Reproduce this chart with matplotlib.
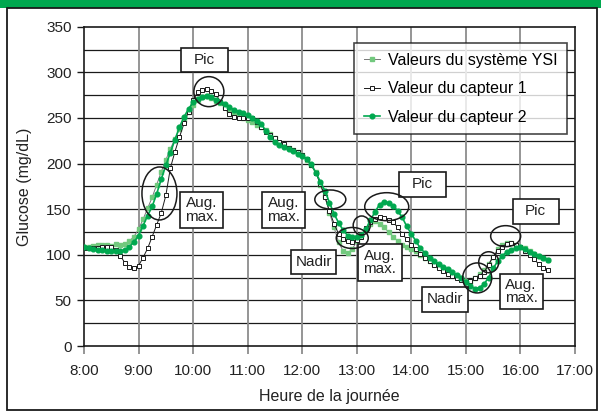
import numpy as np
import matplotlib
matplotlib.use("Agg")
import matplotlib.pyplot as plt
from matplotlib.patches import Rectangle, Ellipse

plt.rcParams['font.family'] = ['Liberation Sans', 'DejaVu Sans']

# Sampling times: every 5 minutes from 8:00 to 16:30 (minutes after 8:00)
minutes = np.arange(0, 515, 5)

ysi = [108, 109, 110, 111, 111, 111, 110, 112, 111, 112, 115, 120,
       128, 139, 151, 163, 177, 191, 204, 216, 227, 238, 248, 257,
       264, 270, 273, 274, 272, 269, 266, 262, 258, 255, 252, 250,
       248, 245, 242, 240, 237, 232, 228, 223, 219, 217, 215, 213,
       209, 204, 198, 191, 176, 164, 146, 130, 114, 104, 102, 106,
       115, 122, 128, 134, 137, 134, 130, 125, 120, 115, 111, 108,
       106, 104, 100, 96, 93, 90, 87, 84, 82, 80, 77, 74,
       71, 70, 74, 79, 83, 90, 98, 106, 111, 113, 113, 111,
       109, 107, 104, 101, 99, 96, 94]

capteur1 = [107, 107, 107, 107, 108, 109, 108, 105, 99, 91, 87, 86,
            88, 97, 107, 120, 133, 146, 165, 195, 213, 229, 244, 257,
            270, 278, 281, 282, 280, 276, 268, 261, 254, 251, 250, 250,
            250, 250, 246, 240, 235, 231, 228, 224, 221, 217, 215, 213,
            209, 205, 198, 190, 178, 163, 148, 134, 123, 117, 115, 114,
            116, 120, 129, 136, 139, 141, 140, 138, 136, 130, 123, 117,
            111, 106, 101, 97, 93, 89, 86, 82, 79, 77, 74, 72,
            70, 71, 74, 77, 81, 89, 98, 104, 109, 112, 113, 111,
            109, 104, 100, 95, 90, 86, 83]

capteur2 = [109, 107, 106, 105, 105, 104, 104, 104, 104, 105, 109, 114,
            121, 132, 143, 153, 167, 183, 198, 212, 226, 240, 251, 260,
            267, 271, 273, 274, 273, 270, 268, 265, 262, 259, 257, 255,
            253, 250, 247, 243, 236, 229, 224, 220, 218, 216, 214, 211,
            208, 205, 199, 190, 180, 170, 157, 145, 135, 127, 121, 119,
            119, 122, 128, 138, 147, 155, 158, 157, 154, 148, 141, 131,
            123, 115, 107, 102, 97, 93, 90, 87, 84, 81, 78, 74,
            70, 66, 63, 64, 68, 75, 85, 93, 99, 103, 105, 107,
            108, 106, 103, 101, 99, 97, 94]

series_labels = ["Valeurs du système YSI", "Valeur du capteur 1", "Valeur du capteur 2"]
hour_labels = ["8:00", "9:00", "10:00", "11:00", "12:00", "13:00", "14:00",
               "15:00", "16:00", "17:00"]

hours = 8 + minutes / 60.0

fig = plt.figure(figsize=(6.01, 4.13), dpi=100)

# header band and outer frame
fig.patches.append(Rectangle((0, 1 - 8 / 413), 1, 8 / 413, transform=fig.transFigure,
                             facecolor="#00a84f", edgecolor="none", zorder=0))
fig.patches.append(Rectangle((6.5 / 601, 3 / 413), 590 / 601, 402 / 413,
                             transform=fig.transFigure, facecolor="none",
                             edgecolor="#1a1a1a", linewidth=1.3, zorder=0))

ax = fig.add_axes([84 / 601, 1 - 346 / 413, 491 / 601, 319.3 / 413])

# grid
for y in range(25, 350, 25):
    ax.axhline(y, color="#1a1a1a", linewidth=0.9, zorder=1)
for h in range(9, 17):
    ax.axvline(h, color="#8c8c8c", linewidth=1.3, zorder=1)

ax.plot(hours, ysi, color="#777777", linewidth=0.7, marker="s", markersize=2.6,
        markerfacecolor="#72c97e", markeredgecolor="#72c97e", label=series_labels[0], zorder=3)
ax.plot(hours, capteur1, color="#1a1a1a", linewidth=0.7, marker="s", markersize=3.0,
        markerfacecolor="white", markeredgecolor="#1a1a1a", markeredgewidth=0.7,
        label=series_labels[1], zorder=4)
ax.plot(hours, capteur2, color="#00a84f", linewidth=1.2, marker="o", markersize=3.4,
        markerfacecolor="#00a84f", markeredgecolor="#00a84f", label=series_labels[2], zorder=5)

ax.set_xlim(8, 17)
ax.set_ylim(0, 350)
ax.set_xticks(range(8, 18))
ax.set_xticklabels(hour_labels)
ax.set_yticks(range(0, 351, 50))
ax.tick_params(axis="y", direction="out", length=5, width=1, color="#1a1a1a",
               labelsize=11, pad=4, labelcolor="#222222")
ax.tick_params(axis="x", direction="out", length=6, width=1.3, color="#8c8c8c",
               labelsize=11, pad=7, labelcolor="#222222")
for s in ax.spines.values():
    s.set_color("#1a1a1a")
    s.set_linewidth(1.2)

ax.set_xlabel("Heure de la journée", fontsize=11.5, color="#222222", labelpad=8)
ax.set_ylabel("Glucose (mg/dL)", fontsize=11.5, color="#222222", labelpad=10)

leg = ax.legend(loc="upper right", bbox_to_anchor=(0.9837, 0.949), borderaxespad=0,
                frameon=True, fancybox=False, fontsize=11.5, handlelength=1.0,
                handletextpad=0.5, labelspacing=0.85, borderpad=0.6, markerscale=1.0)
leg.get_frame().set_edgecolor("#1a1a1a")
leg.get_frame().set_linewidth(1.2)
leg.set_zorder(10)

# callout boxes: (text, centre hour, centre glucose, width px, height px)
px_x = 491 / 9.0
px_y = 319.3 / 350.0
callouts = [
    ("Pic", 10.203, 313.6, 47, 24),
    ("Aug.\nmax.", 10.152, 149.1, 43, 36),
    ("Aug.\nmax.", 11.654, 149.1, 43, 36),
    ("Nadir", 12.212, 92.1, 45, 24),
    ("Pic", 14.196, 177.4, 47, 25),
    ("Aug.\nmax.", 13.421, 91.8, 44, 37),
    ("Nadir", 14.612, 51.3, 46, 25),
    ("Pic", 16.278, 147.5, 46, 25),
    ("Aug.\nmax.", 16.013, 59.8, 43, 35),
]
for txt, cx, cy, w, h in callouts:
    wd, hd = w / px_x, h / px_y
    ax.add_patch(Rectangle((cx - wd / 2, cy - hd / 2), wd, hd, facecolor="white",
                           edgecolor="#1a1a1a", linewidth=1.2, zorder=6))
    ax.text(cx, cy, txt, ha="center", va="center", fontsize=11, color="#222222",
            linespacing=0.95, zorder=7)

# circled features: (centre hour, centre glucose, width px, height px)
rings = [
    (10.289, 278.8, 30, 30),
    (9.383, 167.2, 35, 53),
    (12.515, 160.6, 31, 19),
    (12.917, 118.4, 32, 21),
    (13.09, 132.1, 17, 19),
    (13.549, 152.7, 44, 28),
    (15.207, 74.6, 29, 30),
    (15.418, 91.8, 20, 21),
    (15.729, 120.4, 30, 21),
]
for cx, cy, w, h in rings:
    ax.add_patch(Ellipse((cx, cy), w / px_x, h / px_y, facecolor="none",
                         edgecolor="#1a1a1a", linewidth=1.1, zorder=6))

fig.savefig("out.png", dpi=100)
